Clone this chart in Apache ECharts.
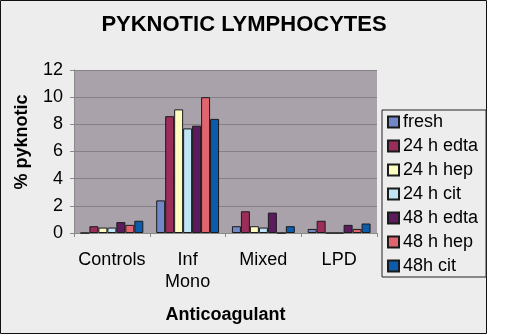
<!DOCTYPE html>
<html><head><meta charset="utf-8">
<script src="https://cdn.jsdelivr.net/npm/echarts@6/dist/echarts.min.js"></script>
<style>html,body{margin:0;padding:0;background:#fff;}#c{width:520px;height:336px;}</style>
</head><body><div id="c"></div>
<script>
const categories = ['Controls', 'Inf\nMono', 'Mixed', 'LPD'];
const yTicks = [0, 2, 4, 6, 8, 10, 12];
const fresh    = [0,   2.4, 0.5, 0.3];
const edta24   = [0.5, 8.6, 1.6, 0.9];
const hep24    = [0.4, 9.1, 0.5, 0];
const cit24    = [0.4, 7.7, 0.4, 0];
const edta48   = [0.8, 7.9, 1.5, 0.6];
const hep48    = [0.6, 10.0, 0,  0.3];
const cit48    = [0.9, 8.4, 0.5, 0.7];
const seriesNames = ['fresh', '24 h edta', '24 h hep', '24 h cit', '48 h edta', '48 h hep', '48h cit'];
const seriesValues = [fresh, edta24, hep24, cit24, edta48, hep48, cit48];
const colors = ['#7188c8', '#9a2d5a', '#fdfac2', '#bfe5f5', '#5c1b5c', '#e2646e', '#0c5cab'];

const FONT = '"Liberation Sans", Arial, sans-serif';
const chart = echarts.init(document.getElementById('c'), null, {renderer: 'canvas'});
chart.setOption({
  animation: false,
  backgroundColor: '#fff',
  textStyle: {fontFamily: FONT},
  graphic: [
    {type: 'rect', z: -10, shape: {x: 0.5, y: 0.5, width: 486, height: 333},
     style: {fill: '#ededed', stroke: '#111', lineWidth: 1}},
    {type: 'text', x: 244, y: 25, z: 10,
     style: {text: 'PYKNOTIC LYMPHOCYTES', font: 'bold 22px ' + FONT, fill: '#000',
             textAlign: 'center', textVerticalAlign: 'middle'}},
    {type: 'text', x: 22, y: 142, rotation: Math.PI / 2, z: 10,
     style: {text: '% pyknotic', font: 'bold 18px ' + FONT, fill: '#000',
             textAlign: 'center', textVerticalAlign: 'middle'}}
  ],
  grid: {left: 74, right: 143, top: 70, bottom: 103, show: true,
         backgroundColor: '#aaa2aa', borderWidth: 0},
  legend: {
    orient: 'vertical', left: 382, top: 110,
    data: seriesNames,
    itemWidth: 11, itemHeight: 11, itemGap: 6,
    padding: [3, 8, 2, 5],
    borderColor: '#222', borderWidth: 1, backgroundColor: '#ededed',
    textStyle: {fontSize: 18, color: '#000', fontFamily: FONT, padding: [0, 0, 0, -1]},
    icon: 'rect'
  },
  xAxis: {
    type: 'category', data: categories,
    name: 'Anticoagulant', nameLocation: 'middle', nameGap: 73,
    nameTextStyle: {fontSize: 18, fontWeight: 'bold', color: '#000', fontFamily: FONT},
    axisLine: {lineStyle: {color: '#8a8a8a'}},
    axisTick: {show: true, length: 4, lineStyle: {color: '#8a8a8a'}},
    axisLabel: {fontSize: 18, color: '#000', margin: 16, lineHeight: 22, fontFamily: FONT, interval: 0}
  },
  yAxis: {
    type: 'value', min: 0, max: 12, interval: 2,
    axisLine: {show: true, lineStyle: {color: '#8a8a8a'}},
    axisTick: {show: true, length: 4, lineStyle: {color: '#8a8a8a'}},
    axisLabel: {fontSize: 18, color: '#000', margin: 11, fontFamily: FONT,
                formatter: v => yTicks.includes(v) ? String(v) : ''},
    splitLine: {lineStyle: {color: '#858085'}}
  },
  series: seriesNames.map((n, i) => ({
    name: n, type: 'bar', data: seriesValues[i],
    barGap: '0%', barCategoryGap: '17%',
    itemStyle: {color: colors[i], borderColor: '#1a1a1a', borderWidth: 1}
  }))
});
</script></body></html>
